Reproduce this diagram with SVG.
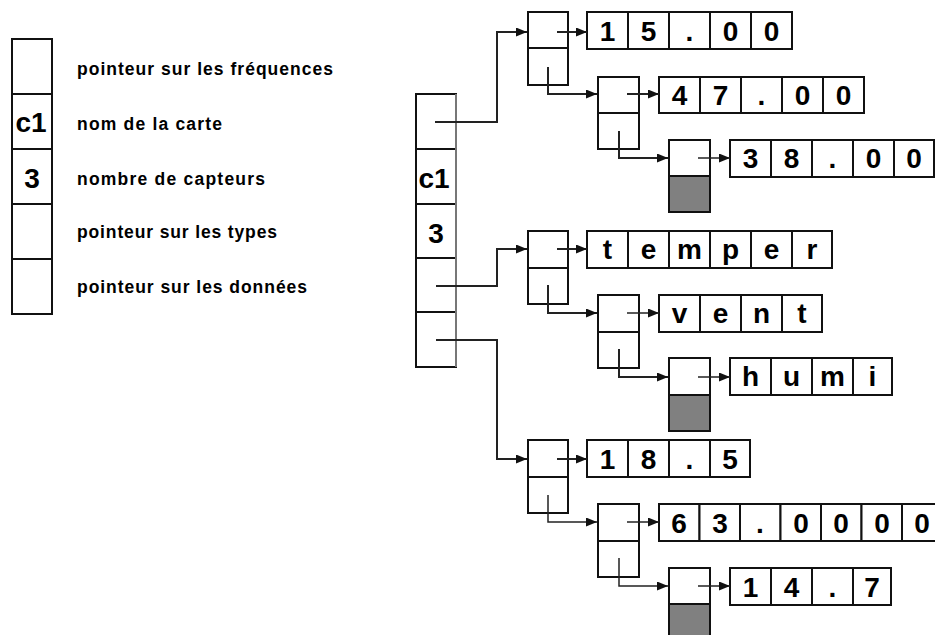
<svg xmlns="http://www.w3.org/2000/svg" width="935" height="635" viewBox="0 0 935 635">
<style>
.box{fill:#fff;stroke:#111;stroke-width:2}
.gbox{fill:#808080;stroke:#111;stroke-width:2}
.lbl{font-family:"Liberation Sans",Arial,sans-serif;font-size:17.5px;font-weight:bold;fill:#000}
.ch{font-family:"Liberation Sans",Arial,sans-serif;font-size:28px;font-weight:bold;fill:#000;text-anchor:middle}
.wire{fill:none;stroke:#222;stroke-width:2}
.thin{fill:none;stroke:#222;stroke-width:1.5}
</style>
<defs>
<marker id="arr" markerUnits="userSpaceOnUse" markerWidth="11" markerHeight="9" refX="11" refY="4.5" orient="auto">
<path d="M0,0 L11,4.5 L0,9 z" fill="#111"/>
</marker>
</defs>
<rect width="935" height="635" fill="#fff"/>

<g id="legend">
<rect class="box" x="12" y="39" width="40" height="55"/>
<rect class="box" x="12" y="94" width="40" height="55"/>
<rect class="box" x="12" y="149" width="40" height="55"/>
<rect class="box" x="12" y="204" width="40" height="55"/>
<rect class="box" x="12" y="259" width="40" height="55"/>
<text class="ch" x="31" y="132">c1</text>
<text class="ch" x="32" y="188">3</text>
<text class="lbl" x="77" y="75" textLength="256" lengthAdjust="spacing">pointeur sur les fréquences</text>
<text class="lbl" x="77" y="130" textLength="145" lengthAdjust="spacing">nom de la carte</text>
<text class="lbl" x="77" y="185" textLength="188" lengthAdjust="spacing">nombre de capteurs</text>
<text class="lbl" x="77" y="238" textLength="200" lengthAdjust="spacing">pointeur sur les types</text>
<text class="lbl" x="77" y="293" textLength="230" lengthAdjust="spacing">pointeur sur les données</text>
</g>

<g id="carte">
<rect class="box" x="416" y="94" width="40" height="55"/>
<rect class="box" x="416" y="149" width="40" height="55"/>
<rect class="box" x="416" y="204" width="40" height="54"/>
<rect class="box" x="416" y="258" width="40" height="54"/>
<rect class="box" x="416" y="312" width="40" height="55"/>
<line x1="456" y1="94" x2="456" y2="367" stroke="#777" stroke-width="2"/>
<text class="ch" x="434" y="188">c1</text>
<text class="ch" x="436" y="243">3</text>
</g>

<g id="freq1"><rect class="box" x="528" y="12" width="40" height="36"/><rect class="box" x="528" y="48" width="40" height="37"/></g>
<g id="freq2"><rect class="box" x="598" y="77" width="41" height="36"/><rect class="box" x="598" y="113" width="41" height="36"/></g>
<g id="freq3"><rect class="box" x="669" y="140" width="41" height="36"/><rect class="gbox" x="669" y="176" width="41" height="36"/></g>

<g id="type1"><rect class="box" x="528" y="231" width="40" height="37"/><rect class="box" x="528" y="268" width="40" height="36"/></g>
<g id="type2"><rect class="box" x="598" y="295" width="41" height="37"/><rect class="box" x="598" y="332" width="41" height="36"/></g>
<g id="type3"><rect class="box" x="669" y="358" width="41" height="37"/><rect class="gbox" x="669" y="395" width="41" height="36"/></g>

<g id="data1"><rect class="box" x="528" y="440" width="40" height="37"/><rect class="box" x="528" y="477" width="40" height="36"/></g>
<g id="data2"><rect class="box" x="598" y="504" width="41" height="37"/><rect class="box" x="598" y="541" width="41" height="36"/></g>
<g id="data3"><rect class="box" x="669" y="568" width="41" height="36"/><rect class="gbox" x="669" y="604" width="41" height="36"/></g>

<g id="s_15_00">
<rect class="box" x="587" y="12" width="41" height="37"/><rect class="box" x="628" y="12" width="41" height="37"/><rect class="box" x="669" y="12" width="41" height="37"/><rect class="box" x="710" y="12" width="41" height="37"/><rect class="box" x="751" y="12" width="41" height="37"/>
<text class="ch" x="607.5" y="41">1</text><text class="ch" x="648.5" y="41">5</text><text class="ch" x="689.5" y="41">.</text><text class="ch" x="730.5" y="41">0</text><text class="ch" x="771.5" y="41">0</text>
</g>
<g id="s_47_00">
<rect class="box" x="659" y="77" width="41" height="36"/><rect class="box" x="700" y="77" width="41" height="36"/><rect class="box" x="741" y="77" width="41" height="36"/><rect class="box" x="782" y="77" width="41" height="36"/><rect class="box" x="823" y="77" width="41" height="36"/>
<text class="ch" x="679.5" y="105">4</text><text class="ch" x="720.5" y="105">7</text><text class="ch" x="761.5" y="105">.</text><text class="ch" x="802.5" y="105">0</text><text class="ch" x="843.5" y="105">0</text>
</g>
<g id="s_38_00">
<rect class="box" x="730" y="140" width="41" height="37"/><rect class="box" x="771" y="140" width="41" height="37"/><rect class="box" x="812" y="140" width="41" height="37"/><rect class="box" x="853" y="140" width="41" height="37"/><rect class="box" x="894" y="140" width="40" height="37"/>
<text class="ch" x="750.5" y="168">3</text><text class="ch" x="791.5" y="168">8</text><text class="ch" x="832.5" y="168">.</text><text class="ch" x="873.5" y="168">0</text><text class="ch" x="914" y="168">0</text>
</g>

<g id="s_temper">
<rect class="box" x="587" y="231" width="41" height="37"/><rect class="box" x="628" y="231" width="41" height="37"/><rect class="box" x="669" y="231" width="41" height="37"/><rect class="box" x="710" y="231" width="41" height="37"/><rect class="box" x="751" y="231" width="41" height="37"/><rect class="box" x="792" y="231" width="40" height="37"/>
<text class="ch" x="607.5" y="259">t</text><text class="ch" x="648.5" y="259">e</text><text class="ch" x="689.5" y="259">m</text><text class="ch" x="730.5" y="259">p</text><text class="ch" x="771.5" y="259">e</text><text class="ch" x="812" y="259">r</text>
</g>
<g id="s_vent">
<rect class="box" x="659" y="295" width="41" height="37"/><rect class="box" x="700" y="295" width="41" height="37"/><rect class="box" x="741" y="295" width="41" height="37"/><rect class="box" x="782" y="295" width="40" height="37"/>
<text class="ch" x="679.5" y="323">v</text><text class="ch" x="720.5" y="323">e</text><text class="ch" x="761.5" y="323">n</text><text class="ch" x="802" y="323">t</text>
</g>
<g id="s_humi">
<rect class="box" x="730" y="358" width="41" height="37"/><rect class="box" x="771" y="358" width="41" height="37"/><rect class="box" x="812" y="358" width="41" height="37"/><rect class="box" x="853" y="358" width="39" height="37"/>
<text class="ch" x="750.5" y="386">h</text><text class="ch" x="791.5" y="386">u</text><text class="ch" x="832.5" y="386">m</text><text class="ch" x="872.5" y="386">i</text>
</g>

<g id="s_18_5">
<rect class="box" x="587" y="440" width="41" height="37"/><rect class="box" x="628" y="440" width="41" height="37"/><rect class="box" x="669" y="440" width="41" height="37"/><rect class="box" x="710" y="440" width="40" height="37"/>
<text class="ch" x="607.5" y="469">1</text><text class="ch" x="648.5" y="469">8</text><text class="ch" x="689.5" y="469">.</text><text class="ch" x="730" y="469">5</text>
</g>
<g id="s_63_0000">
<rect class="box" x="659" y="504" width="40.5" height="37"/><rect class="box" x="699.5" y="504" width="40.5" height="37"/><rect class="box" x="740" y="504" width="40.5" height="37"/><rect class="box" x="780.5" y="504" width="40.5" height="37"/><rect class="box" x="821" y="504" width="40.5" height="37"/><rect class="box" x="861.5" y="504" width="40.5" height="37"/><rect class="box" x="902" y="504" width="40.5" height="37"/>
<text class="ch" x="679" y="533">6</text><text class="ch" x="720" y="533">3</text><text class="ch" x="760" y="533">.</text><text class="ch" x="801" y="533">0</text><text class="ch" x="841" y="533">0</text><text class="ch" x="882" y="533">0</text><text class="ch" x="922" y="533">0</text>
</g>
<g id="s_14_7">
<rect class="box" x="730" y="568" width="41" height="37"/><rect class="box" x="771" y="568" width="41" height="37"/><rect class="box" x="812" y="568" width="41" height="37"/><rect class="box" x="853" y="568" width="38" height="37"/>
<text class="ch" x="750.5" y="597">1</text><text class="ch" x="791.5" y="597">4</text><text class="ch" x="832.5" y="597">.</text><text class="ch" x="872" y="597">7</text>
</g>

<g id="connectors">
<path class="wire" d="M435,122 H497 V32 H527" marker-end="url(#arr)"/>
<path class="wire" d="M436,286 H497 V249 H527" marker-end="url(#arr)"/>
<path class="wire" d="M436,340 H497 V459 H527" marker-end="url(#arr)"/>

<path class="wire" d="M557,32 H587" marker-end="url(#arr)"/>
<path class="wire" d="M548,67 V94 H597" marker-end="url(#arr)"/>
<path class="wire" d="M627,94 H659" marker-end="url(#arr)"/>
<path class="wire" d="M619,131 V158 H668" marker-end="url(#arr)"/>
<path class="thin" d="M698,158 H730" marker-end="url(#arr)"/>

<path class="wire" d="M557,249 H587" marker-end="url(#arr)"/>
<path class="wire" d="M548,285 V313 H597" marker-end="url(#arr)"/>
<path class="thin" d="M627,313 H659" marker-end="url(#arr)"/>
<path class="wire" d="M619,349 V377 H668" marker-end="url(#arr)"/>
<path class="thin" d="M698,377 H730" marker-end="url(#arr)"/>

<path class="wire" d="M557,459 H587" marker-end="url(#arr)"/>
<path class="thin" d="M548,495 V522 H597" marker-end="url(#arr)"/>
<path class="thin" d="M627,522 H659" marker-end="url(#arr)"/>
<path class="thin" d="M619,558 V586 H668" marker-end="url(#arr)"/>
<path class="thin" d="M698,586 H730" marker-end="url(#arr)"/>
</g>
</svg>
